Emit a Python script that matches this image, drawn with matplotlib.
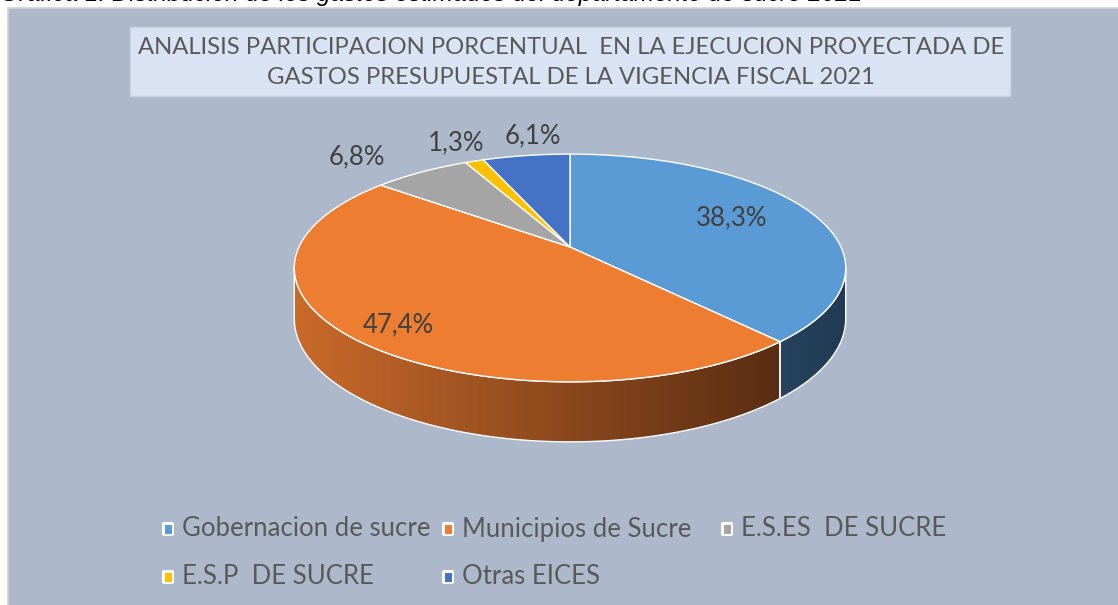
import numpy as np
import matplotlib.pyplot as plt
from matplotlib.patches import Polygon, Rectangle, FancyBboxPatch
from matplotlib.colors import LinearSegmentedColormap

# data
categories = ['Gobernacion de sucre', 'Municipios de Sucre', 'E.S.ES  DE SUCRE',
              'E.S.P  DE SUCRE', 'Otras EICES']
shares = [38.3, 47.4, 6.8, 1.3, 6.1]
title_lines = ['ANALISIS PARTICIPACION PORCENTUAL  EN LA EJECUCION PROYECTADA DE',
               'GASTOS PRESUPUESTAL DE LA VIGENCIA FISCAL 2021']
caption = 'Gráfica 1. Distribución de los gastos estimados del departamento de sucre 2021'

# styling
top_colors = ['#5b9bd5', '#ed7d31', '#a5a5a5', '#ffc000', '#4472c4']
side_colors = [('#27435d', '#203a52'), ('#c96a2a', '#5a2d12'), ('#7c7c7c', '#4a4a4a'),
               ('#bf9000', '#7f6000'), ('#2f5597', '#1f3864')]
label_r = [0.68, 0.82, 1.0, 1.0, 1.0]
label_off = [(-3, -4), (0, 4), (-64, -15), (-18, -18), (7, -20)]
FONT = ['Lato', 'DejaVu Sans']

# pie geometry (pixels) - tilted disc with a bit of perspective
CX, CY = 570, 247
A, B, K = 271, 110, 0.184
DEPTH = 49

W, H = 1118, 605
fig = plt.figure(figsize=(W / 100, H / 100), dpi=100)
ax = fig.add_axes([0, 0, 1, 1])
ax.set_xlim(0, W)
ax.set_ylim(H, 0)
ax.axis('off')
renderer = fig.canvas.get_renderer()


def fit_text(x, y, s, width, **kw):
    t = ax.text(x, y, s, fontsize=10, **kw)
    w = t.get_window_extent(renderer).width
    t.set_fontsize(10 * width / w)
    return t


def proj(theta, r=1.0):
    t = np.radians(theta)
    d = 1 + K * r * np.sin(t)
    return CX + A * r * np.cos(t) / d, CY - B * r * np.sin(t) / d


def depth(theta):
    return DEPTH / (1 + K * np.sin(np.radians(theta)))


# background
ax.add_patch(Rectangle((8, 8), W, H, facecolor='#adb9ca', edgecolor='#d4d4d4', lw=1.2, zorder=0))

# caption, mostly cut off at the top of the image (as in the source)
fit_text(0, 1, caption, 865, ha='left', va='baseline', style='italic',
         family=['Liberation Sans', 'DejaVu Sans'], color='black')

# title box
ax.add_patch(Rectangle((130, 27), 880, 69, facecolor='#dae3f3', edgecolor='#c9d4e5', lw=1, zorder=1))
t1 = fit_text(571, 47, title_lines[0], 858, ha='center', va='center', family=FONT, color='#595959')
ax.text(571, 78, title_lines[1], fontsize=t1.get_fontsize(), ha='center', va='center',
        family=FONT, color='#595959')

# slice angles, clockwise from 12 o'clock
cum = np.concatenate([[0], np.cumsum(shares)]) / np.sum(shares)
th_start = 90 - 360 * cum[:-1]
th_end = 90 - 360 * cum[1:]

vis_lo = -180 + np.degrees(np.arcsin(K))
vis_hi = -np.degrees(np.arcsin(K))

# side walls
for i in range(len(shares)):
    lo, hi = max(th_end[i], vis_lo), min(th_start[i], vis_hi)
    if lo >= hi:
        continue
    th = np.linspace(lo, hi, 200)
    xt, yt = proj(th)
    yb = yt + depth(th)
    pts = np.column_stack([np.concatenate([xt, xt[::-1]]), np.concatenate([yt, yb[::-1]])])
    poly = Polygon(pts, closed=True, facecolor='none', edgecolor='white', lw=1, zorder=3)
    ax.add_patch(poly)
    cmap = LinearSegmentedColormap.from_list('side%d' % i, side_colors[i])
    grad = np.linspace(0, 1, 256).reshape(1, -1)
    im = ax.imshow(grad, cmap=cmap, aspect='auto', zorder=2,
                   extent=(pts[:, 0].min(), pts[:, 0].max(), pts[:, 1].max(), pts[:, 1].min()))
    im.set_clip_path(poly)

# top faces
for i in range(len(shares)):
    th = np.linspace(th_start[i], th_end[i], 200)
    xs, ys = proj(th)
    pts = np.column_stack([np.concatenate([[CX], xs]), np.concatenate([[CY], ys])])
    ax.add_patch(Polygon(pts, closed=True, facecolor=top_colors[i], edgecolor='white',
                         lw=1, joinstyle='round', zorder=4))

# data labels
lab_fs = None
for i, v in enumerate(shares):
    mid = (th_start[i] + th_end[i]) / 2
    x, y = proj(mid, label_r[i])
    s = ('%.1f%%' % v).replace('.', ',')
    kw = dict(ha='center', va='center', family=FONT, color='#404040', zorder=5)
    if lab_fs is None:
        lab_fs = fit_text(x + label_off[i][0], y + label_off[i][1], s, 71, **kw).get_fontsize()
    else:
        ax.text(x + label_off[i][0], y + label_off[i][1], s, fontsize=lab_fs, **kw)

# legend
leg_x = [168, 448, 727, 168, 448]
leg_y = [529, 529, 529, 577, 577]
leg_fs = None
for i, name in enumerate(categories):
    x, y = leg_x[i], leg_y[i]
    ax.add_patch(FancyBboxPatch((x - 5, y - 6), 10, 12, boxstyle='round,pad=1,rounding_size=2',
                                facecolor='white', edgecolor='none', zorder=5))
    ax.add_patch(Rectangle((x - 3.5, y - 4.5), 7, 9, facecolor=top_colors[i], edgecolor='none', zorder=6))
    if leg_fs is None:
        t = fit_text(x + 14, y, name, 248, ha='left', va='center', family=FONT, color='#595959')
        leg_fs = t.get_fontsize()
    else:
        ax.text(x + 14, y, name, fontsize=leg_fs, ha='left', va='center', family=FONT, color='#595959')

ax.set_xlim(0, W)
ax.set_ylim(H, 0)
fig.savefig('out.png', dpi=100)
